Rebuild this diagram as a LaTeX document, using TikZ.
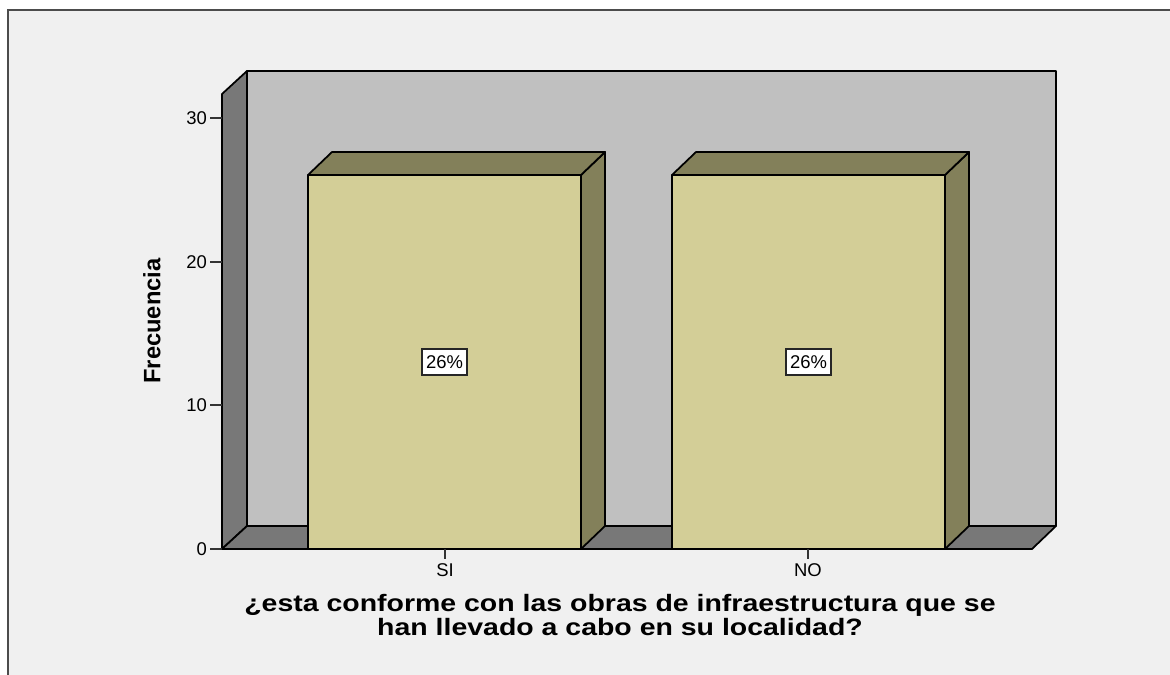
\documentclass[tikz,border=0pt]{standalone}
\usepackage{fontspec}
\setmainfont{Liberation Sans}
\definecolor{panel}{RGB}{240,240,240}
\definecolor{backwall}{RGB}{192,192,192}
\definecolor{sidewall}{RGB}{120,120,120}
\definecolor{barfront}{RGB}{211,206,151}
\definecolor{barside}{RGB}{131,128,90}

\begin{document}
\begin{tikzpicture}[x=0.02cm, y=-0.02cm, wall/.style={draw=black, line width=1pt, line join=round}, front/.style={wall, fill=barfront}, side/.style={wall, fill=barside}, tick/.style={font=\fontsize{10.5}{12}\selectfont, inner sep=1pt}, pct/.style={draw=black!85, fill=white, line width=1pt, inner xsep=2.5pt, inner ysep=3.5pt, font=\fontsize{10.5}{12}\selectfont}, title/.style={font=\fontsize{13.5}{12.5}\selectfont\bfseries, align=center}]
	% frame
	\useasboundingbox (0,0) rectangle (1170,675);
	\fill[white] (0,0) rectangle (1170,675);
	\fill[panel] (8,10) rectangle (1170,675);
	\draw[black!70, line width=1.2pt] (8,675) -- (8,10) -- (1170,10);

	% walls and floor
	\draw[wall, fill=backwall] (247,71) rectangle (1056,526);
	\draw[wall, fill=sidewall] (222,549) -- (222,94) -- (247,71) -- (247,526) -- cycle;
	\draw[wall, fill=sidewall] (222,549) -- (1032,549) -- (1056,526) -- (247,526) -- cycle;

	% bars
	\foreach \x/\name in {308/si, 672/no} {
		\draw[side] (\x+273,175) -- (\x+297,152) -- (\x+297,526) -- (\x+273,549) -- cycle;
		\draw[side] (\x,175) -- (\x+24,152) -- (\x+297,152) -- (\x+273,175) -- cycle;
		\draw[front] (\x,175) rectangle (\x+273,549);
		\node[pct] (\name pct) at (\x+136.5,362) {26\%};
	}

	% axes
	\draw[wall] (210,549) -- (1032,549);
	\foreach \v/\y in {0/549, 10/405, 20/262, 30/118} {
		\draw[black!80, line width=0.9pt] (210,\y) -- (222,\y);
		\node[tick, anchor=east] (y\v) at (209,\y) {\v};
	}
	\foreach \x/\lab in {445/SI, 808/NO} {
		\draw[black!80, line width=0.9pt] (\x,549) -- (\x,559);
		\node[tick, anchor=north] (x\lab) at (\x,562) {\lab};
	}

	% titles
	\node[title, rotate=90] (ytitle) at (152,321) {Frecuencia};
	\node[title] (xtitle) at (620,618) {\scalebox{1.2}[1]{\begin{tabular}{@{}c@{}}¿esta conforme con las obras de infraestructura que se\\han llevado a cabo en su localidad?\end{tabular}}};
\end{tikzpicture}
\end{document}
